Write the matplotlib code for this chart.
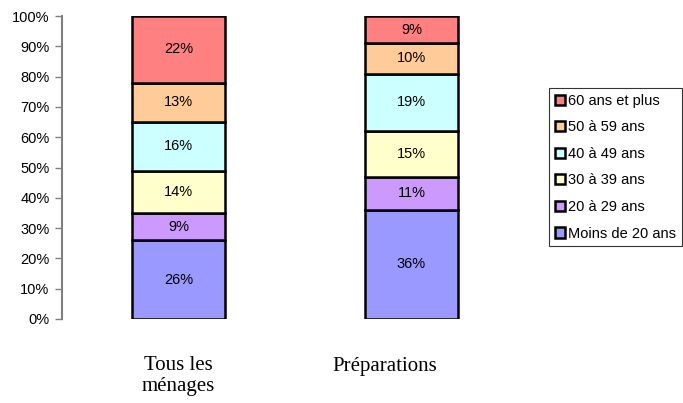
import numpy as np
import matplotlib
matplotlib.use("Agg")
from matplotlib import pyplot as plt
from matplotlib.transforms import ScaledTranslation

categories = ["Tous les\nménages", "Préparations"]
age_groups = ["Moins de 20 ans", "20 à 29 ans", "30 à 39 ans",
              "40 à 49 ans", "50 à 59 ans", "60 ans et plus"]
tous_les_menages = [26, 9, 14, 16, 13, 22]
preparations = [36, 11, 15, 19, 10, 9]
colors = ["#9999FF", "#CC99FF", "#FFFFCC", "#CCFFFF", "#FFCC99", "#FF8080"]
yticks = np.arange(0, 101, 10)

plt.rcParams['font.family'] = ['Liberation Sans', 'DejaVu Sans']

fig = plt.figure(figsize=(6.83, 4.03), dpi=100)
ax = fig.add_axes([62 / 683, 84 / 403, 466 / 683, 303 / 403])

values = np.array([tous_les_menages, preparations])
x = np.arange(len(categories))
bottom = np.zeros(len(categories))
handles = []
for i, name in enumerate(age_groups):
    bars = ax.bar(x, values[:, i], 0.403, bottom=bottom, color=colors[i],
                  edgecolor="black", linewidth=1.8, label=name)
    handles.append(bars)
    for xi, v, b in zip(x, values[:, i], bottom):
        ax.text(xi, b + v / 2, f"{v}%", ha="center", va="center", fontsize=10.5)
    bottom += values[:, i]

ax.set_xlim(-0.5, 1.5)
ax.set_ylim(0, 100)
ax.set_yticks(yticks)
ax.set_yticklabels([f"{t}%" for t in yticks], fontsize=10.5)
ax.set_xticks(x)
ax.set_xticklabels(categories, fontsize=15, family=['Liberation Serif'],
                   linespacing=1.1)
ax.tick_params(axis="x", length=0, pad=27)
ax.tick_params(axis="y", length=5, width=1, color="#808080", direction="out", pad=4)
lbls = ax.get_xticklabels()
lbls[1].set_transform(lbls[1].get_transform() + ScaledTranslation(-27 / 100, 0, fig.dpi_scale_trans))

for s in ["top", "right", "bottom"]:
    ax.spines[s].set_visible(False)
ax.spines["left"].set_color("#808080")
ax.spines["left"].set_linewidth(1.5)

leg = ax.legend(handles[::-1], age_groups[::-1], loc="upper left",
                bbox_to_anchor=(549 / 683, 1 - 88 / 403), bbox_transform=fig.transFigure,
                borderaxespad=0, fancybox=False, edgecolor="black", fontsize=10.5,
                handlelength=0.7, handleheight=0.7, handletextpad=0.2,
                labelspacing=0.86, borderpad=0.4)
leg.get_frame().set_linewidth(0.8)

fig.savefig("out.png", dpi=100)
